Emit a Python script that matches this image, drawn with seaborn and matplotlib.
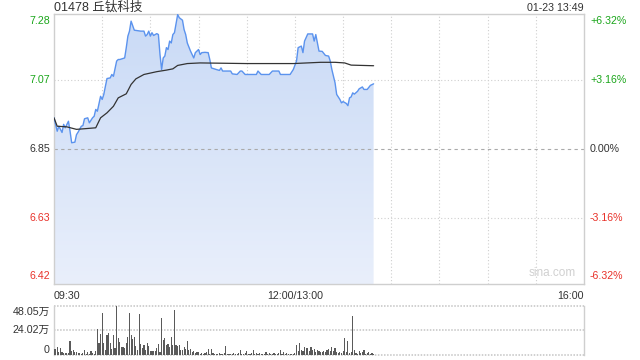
import numpy as np
import matplotlib
matplotlib.use("Agg")
import matplotlib.pyplot as plt
import matplotlib.transforms as mtransforms
from matplotlib.patches import Polygon
from matplotlib.colors import LinearSegmentedColormap
import seaborn as sns

# ---------------- data ----------------
title = "01478 丘钛科技"
stamp = "01-23 13:49"
prev_close = 6.85
price_ticks = [6.42, 6.63, 6.85, 7.07, 7.28]
pct_labels = ["-6.32%", "-3.16%", "0.00%", "+3.16%", "+6.32%"]
time_labels = ["09:30", "12:00/13:00", "16:00"]
vol_ticks = [0, 24.02, 48.05]
vol_labels = ["0", "24.02万", "48.05万"]

# trading minutes since 09:30 (morning 150 min, afternoon 180 min)
price_min = [0, 2, 3, 5, 6, 7, 9, 10, 11, 13, 14, 15, 17, 18, 19, 21, 22, 24, 25, 26,
             27, 29, 30, 31, 32, 33, 35, 36, 37, 39, 40, 41, 44, 45, 46, 47, 48, 50, 54, 56,
             57, 58, 59, 60, 61, 62, 64, 65, 66, 67, 68, 69, 70, 71, 72, 73, 74, 75, 77, 78,
             80, 81, 82, 83, 85, 86, 87, 88, 90, 91, 92, 94, 96, 97, 98, 101, 103, 104, 105, 110,
             111, 114, 116, 117, 119, 126, 127, 129, 134, 136, 140, 141, 147, 149, 151, 152, 154, 155, 156, 158,
             161, 162, 163, 165, 167, 169, 171, 172, 173, 175, 176, 178, 179, 180, 182, 183, 184, 185, 186, 187,
             189, 190, 192, 193, 195, 197, 199]
price = [6.950, 6.907, 6.923, 6.903, 6.929, 6.918, 6.939, 6.907, 6.870, 6.872, 6.896, 6.904, 6.923, 6.925, 6.947, 6.950, 6.934, 6.950, 6.955, 6.977,
         6.971, 7.019, 7.009, 7.025, 7.051, 7.076, 7.078, 7.089, 7.083, 7.132, 7.137, 7.137, 7.142, 7.175, 7.212, 7.228, 7.260, 7.231, 7.228, 7.228,
         7.212, 7.217, 7.228, 7.212, 7.223, 7.214, 7.220, 7.217, 7.153, 7.105, 7.142, 7.148, 7.175, 7.169, 7.196, 7.190, 7.217, 7.223, 7.281, 7.271,
         7.263, 7.233, 7.217, 7.190, 7.164, 7.153, 7.142, 7.159, 7.169, 7.153, 7.159, 7.160, 7.159, 7.137, 7.110, 7.105, 7.102, 7.110, 7.100, 7.100,
         7.091, 7.089, 7.100, 7.100, 7.089, 7.089, 7.100, 7.089, 7.089, 7.100, 7.100, 7.089, 7.089, 7.105, 7.132, 7.175, 7.180, 7.159, 7.196, 7.219,
         7.219, 7.196, 7.217, 7.164, 7.163, 7.150, 7.148, 7.132, 7.105, 7.062, 7.025, 7.009, 6.998, 7.002, 6.996, 6.989, 7.014, 7.017, 7.030, 7.026,
         7.035, 7.043, 7.049, 7.041, 7.041, 7.054, 7.059]

avg_min = [0, 2, 8, 14, 19, 26, 29, 33, 37, 40, 45, 48, 51, 56, 64, 70, 74, 77, 83, 91,
           120, 149, 166, 175, 181, 185, 199]
avg_price = [6.950, 6.923, 6.921, 6.913, 6.915, 6.918, 6.950, 6.966, 6.987, 7.014, 7.027, 7.057, 7.075, 7.089, 7.098, 7.103, 7.107, 7.118, 7.124, 7.126,
             7.124, 7.124, 7.128, 7.128, 7.126, 7.119, 7.117]

# volume per minute, in 万 shares
volume = [5.8, 5.5, 8.0, 2.5, 7.0, 2.5, 1.5, 1.5, 2.0, 1.5,
          13.6, 3.5, 4.8, 2.5, 3.2, 2.0, 1.5, 1.0, 1.5, 4.8,
          1.0, 2.5, 1.0, 3.8, 1.5, 0.8, 4.0, 24.9, 11.3, 20.0,
          41.0, 11.5, 4.8, 19.4, 21.0, 11.3, 6.0, 19.4, 6.5, 48.05,
          16.2, 12.5, 7.4, 7.4, 6.5, 12.0, 17.1, 41.0, 19.4, 15.2,
          17.8, 8.7, 5.0, 39.8, 10.7, 6.5, 9.7, 4.9, 12.0, 8.7,
          4.2, 4.2, 3.5, 4.2, 6.5, 10.7, 3.0, 36.2, 14.5, 16.2,
          9.7, 10.7, 7.4, 17.8, 9.7, 43.7, 9.7, 8.7, 9.7, 4.9,
          4.9, 7.4, 6.0, 13.9, 4.9, 5.5, 3.0, 4.0, 1.5, 2.5,
          3.2, 1.0, 2.0, 0.8, 1.5, 2.5, 5.5, 1.0, 6.0, 1.5,
          0.8, 1.0, 0.5, 1.5, 0.8, 1.0, 2.0, 8.7, 1.0, 0.5,
          1.2, 0.8, 1.5, 0.8, 1.0, 2.0, 4.9, 1.0, 0.8, 1.5,
          4.2, 1.0, 0.8, 2.0, 4.9, 1.0, 1.5, 1.0, 2.0, 0.8,
          1.2, 1.0, 3.0, 0.8, 1.5, 1.0, 0.8, 1.5, 1.0, 1.2,
          2.0, 4.8, 1.0, 3.0, 0.8, 1.5, 1.0, 0.8, 0.5, 1.0,
          1.5, 9.7, 3.5, 11.3, 4.8, 3.5, 7.4, 7.0, 6.5, 3.5,
          7.8, 4.8, 5.5, 3.2, 4.8, 4.2, 3.2, 2.5, 4.2, 3.2,
          4.8, 5.8, 4.0, 7.4, 4.2, 6.5, 2.5, 1.5, 3.0, 1.5,
          4.0, 16.2, 2.5, 13.6, 1.5, 3.0, 37.8, 4.8, 1.5, 1.0,
          3.5, 1.5, 2.5, 4.8, 1.0, 1.5, 2.5, 1.0, 1.5, 1.0]

# ---------------- style ----------------
sns.set_theme(style="white")
plt.rcParams["font.family"] = ["Liberation Sans", "Noto Sans CJK SC", "DejaVu Sans"]

GREEN = "#1ba61b"
RED = "#e8322a"
DARK = "#333333"
GRID = "#cfcfcf"
LINE = "#5b93ee"
FS = 7.7

total_min = 330
lo = prev_close * (1 - 0.0632)
hi = prev_close * (1 + 0.0632)

fig = plt.figure(figsize=(6.4, 3.6), dpi=100)
ax = fig.add_axes([54 / 640, 1 - 284 / 360, 530 / 640, 270 / 360])
axv = fig.add_axes([54 / 640, 1 - 355 / 360, 530 / 640, 49.5 / 360])

# ---- main price panel ----
ax.set_xlim(0, total_min)
ax.set_ylim(lo, hi)

# gradient fill under price line
verts = [(price_min[0], lo)] + list(zip(price_min, price)) + [(price_min[-1], lo)]
poly = Polygon(verts, closed=True, facecolor="none", edgecolor="none")
ax.add_patch(poly)
cmap = LinearSegmentedColormap.from_list("fillgrad", ["#e9effb", "#c9daf6"])
grad = np.linspace(0, 1, 256).reshape(-1, 1)
im = ax.imshow(grad, extent=[0, total_min, lo, hi], origin="lower", aspect="auto",
               cmap=cmap, zorder=1, interpolation="bilinear")
im.set_clip_path(poly)

# grid
for t in range(30, total_min, 30):
    ax.axvline(t, color=GRID, lw=0.8, ls=(0, (1, 2)), zorder=0.5)
for v in [price_ticks[1], price_ticks[3]]:
    ax.axhline(v, color=GRID, lw=0.8, ls=(0, (1, 2)), zorder=0.5)
ax.axhline(prev_close, color="#aaaaaa", lw=0.8, ls=(0, (3, 3)), zorder=2.5)

sns.lineplot(x=price_min, y=price, ax=ax, color=LINE, lw=1.0, zorder=3)
sns.lineplot(x=avg_min, y=avg_price, ax=ax, color="#333333", lw=0.9, zorder=4)

ax.set_xticks([])
ax.set_yticks([])
ax.set_xlabel("")
ax.set_ylabel("")
for s in ax.spines.values():
    s.set_color(GRID)
    s.set_linewidth(1.0)

ytr = ax.get_yaxis_transform()
label_cols = [RED, RED, DARK, GREEN, GREEN]
offsets = [7, 0, 0, 0, -6]
for v, pl, c, off in zip(price_ticks, pct_labels, label_cols, offsets):
    tl = mtransforms.offset_copy(ytr, fig=fig, x=-4, y=off, units="dots")
    ax.text(0, v, f"{v:.2f}", transform=tl, ha="right", va="center", fontsize=FS, color=c)
    tr = mtransforms.offset_copy(ytr, fig=fig, x=6, y=off, units="dots")
    ax.text(1, v, pl, transform=tr, ha="left", va="center", fontsize=FS, color=c)

# time labels
ax.text(0, -0.025, time_labels[0], transform=ax.transAxes, ha="left", va="top", fontsize=FS, color=DARK)
ax.text(150 / total_min, -0.025, time_labels[1], transform=ax.transAxes, ha="center", va="top", fontsize=FS, color=DARK)
ax.text(1, -0.025, time_labels[2], transform=ax.transAxes, ha="right", va="top", fontsize=FS, color=DARK)

# header
fig.text(54 / 640, 1 - 8 / 360, title, ha="left", va="center", fontsize=9, color=DARK)
fig.text(584 / 640, 1 - 8 / 360, stamp, ha="right", va="center", fontsize=FS, color=DARK)
ax.text(0.985, 0.02, "sina.com", transform=ax.transAxes, ha="right", va="bottom",
        fontsize=8.5, color="#d0d0d0")

# ---- volume panel ----
axv.set_xlim(0, total_min)
axv.set_ylim(0, vol_ticks[-1])
axv.bar(np.arange(len(volume)), volume, width=0.7, color="#5a5a5a",
        edgecolor="none", linewidth=0, zorder=3)
for v in vol_ticks:
    axv.axhline(v, color="#c4c4c4", lw=1.1, ls=(0, (1, 1)), zorder=1, clip_on=False)
axv.set_xticks([])
axv.set_yticks([])
for k, s in axv.spines.items():
    if k in ("top", "bottom"):
        s.set_visible(False)
    else:
        s.set_color(GRID)
        s.set_linewidth(1.0)
vtr = axv.get_yaxis_transform()
voffs = [5, 0, -6]
for v, lab, off in zip(vol_ticks, vol_labels, voffs):
    tl = mtransforms.offset_copy(vtr, fig=fig, x=-4, y=off, units="dots")
    axv.text(0, v, lab, transform=tl, ha="right", va="center", fontsize=FS, color=DARK)

fig.savefig("out.png", dpi=100)
